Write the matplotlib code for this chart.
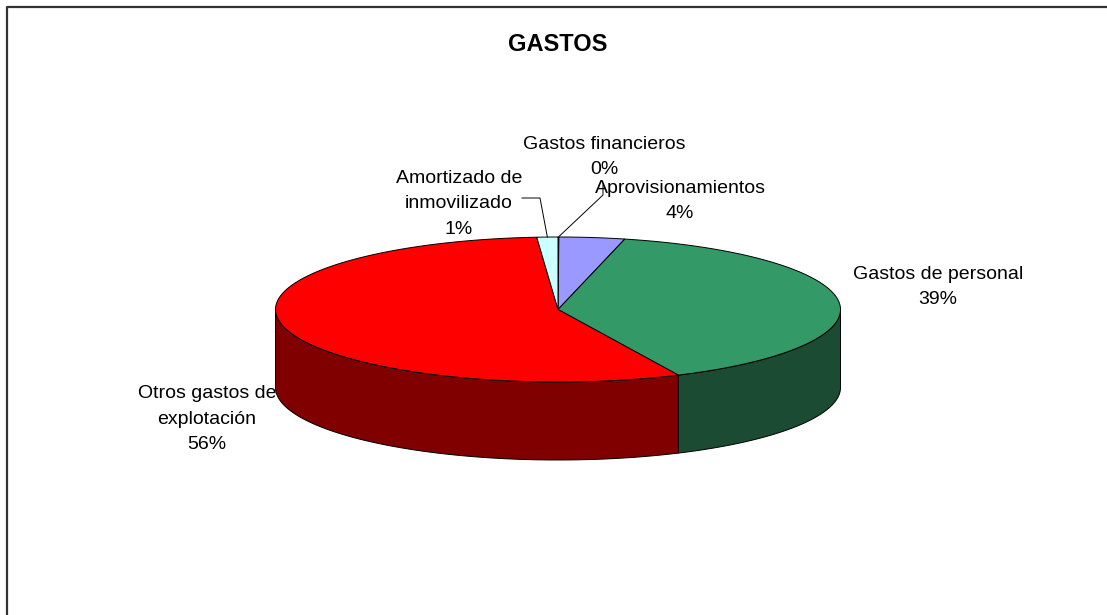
import numpy as np
import matplotlib
matplotlib.use('Agg')
import matplotlib.pyplot as plt
from matplotlib.patches import Polygon

# slice data, clockwise from 12 o'clock
labels = ['Gastos financieros', 'Aprovisionamientos', 'Gastos de personal',
          'Otros gastos de\nexplotación', 'Amortizado de\ninmovilizado']
values = [0.05, 3.75, 39.2, 55.8, 1.2]
top_colors = ['#FFFFCC', '#9999FF', '#339966', '#FF0000', '#CCFFFF']
side_colors = ['#80806A', '#4D4D80', '#1C4B33', '#800000', '#668080']

# label placement (pixels, y down) and leader line elbows
label_pos = [(604, 157), (680, 201), (938, 287), (207, 419), (459, 204)]
leaders = {0: [(603, 185), (603, 195)], 4: [(522, 198), (540, 198)]}

plt.rcParams['font.family'] = ['Liberation Sans', 'DejaVu Sans']

fig = plt.figure(figsize=(11.07, 6.15), dpi=100)
ax = fig.add_axes([0, 0, 1, 1])
ax.set_xlim(0, 1107)
ax.set_ylim(615, 0)
ax.axis('off')

# pie geometry
cx, cy = 558, 309.5
a, b = 282.5, 72.5
depth = 78


def ellipse_pts(f0, f1, dy=0, n=200):
    t = 2 * np.pi * np.linspace(f0, f1, n)
    return np.column_stack([cx + a * np.sin(t), cy - b * np.cos(t) + dy])


fracs = np.array(values) / sum(values)
starts = np.concatenate([[0], np.cumsum(fracs)[:-1]])
ends = starts + fracs

# outer wall, only the front half is visible
for s, e, col in zip(starts, ends, side_colors):
    s2, e2 = max(s, 0.25), min(e, 0.75)
    if e2 <= s2:
        continue
    top = ellipse_pts(s2, e2)
    bot = ellipse_pts(s2, e2, dy=depth)[::-1]
    ax.add_patch(Polygon(np.vstack([top, bot]), closed=True, facecolor=col,
                         edgecolor='black', linewidth=0.7))

# top faces
for s, e, col in zip(starts, ends, top_colors):
    arc = ellipse_pts(s, e)
    ax.add_patch(Polygon(np.vstack([[cx, cy], arc]), closed=True, facecolor=col,
                         edgecolor='black', linewidth=0.7))

# labels
for i, (lab, v) in enumerate(zip(labels, values)):
    x, y = label_pos[i]
    ax.text(x, y, f"{lab}\n{round(v):.0f}%", ha='center', va='center',
            multialignment='center', fontsize=14, linespacing=1.65, color='black')
    if i in leaders:
        mid = ellipse_pts((starts[i] + ends[i]) / 2, (starts[i] + ends[i]) / 2, n=1)[0]
        pts = np.array(leaders[i] + [tuple(mid)])
        ax.plot(pts[:, 0], pts[:, 1], color='black', linewidth=0.7)

ax.text(cx, 51, 'GASTOS', ha='center', va='baseline', fontsize=17, fontweight='bold')

# chart area frame (right and bottom edges fall outside the picture)
ax.plot([7, 7, 1107], [615, 7, 7], color='#333333', linewidth=1.6)

fig.savefig('out.png', dpi=100)
